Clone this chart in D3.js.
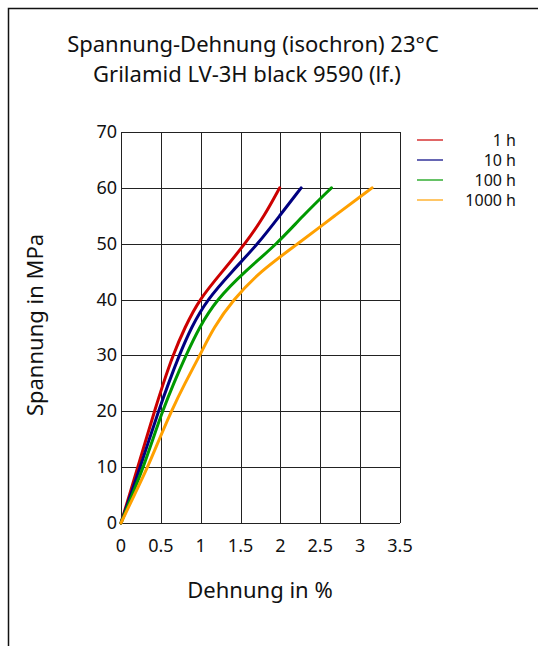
<!DOCTYPE html>
<html>
<head>
<meta charset="utf-8">
<script src="https://cdn.jsdelivr.net/npm/d3@7"></script>
<style>
  body { margin: 0; background: #fff; }
  text { font-family: "Noto Sans", "Open Sans", sans-serif; fill: #111; }
</style>
</head>
<body>
<script>
// stress levels (MPa) and strain (%) for each isochronous curve
const stress = [0, 5, 10, 15, 20, 25, 30, 35, 40, 45, 50, 55, 60];
const strain1h = [0, 0.105, 0.21, 0.315, 0.42, 0.53, 0.65, 0.80, 0.98, 1.27, 1.56, 1.80, 1.99];
const strain10h = [0, 0.12, 0.24, 0.355, 0.47, 0.595, 0.73, 0.88, 1.08, 1.39, 1.72, 1.99, 2.26];
const strain100h = [0, 0.14, 0.28, 0.40, 0.52, 0.66, 0.815, 0.98, 1.20, 1.55, 1.96, 2.28, 2.64];
const strain1000h = [0, 0.167, 0.335, 0.48, 0.63, 0.80, 0.99, 1.16, 1.41, 1.74, 2.22, 2.68, 3.15];

const seriesNames = ["1 h", "10 h", "100 h", "1000 h"];
const seriesColors = ["#cc0000", "#000080", "#009900", "#ffa000"];
const xTicks = [0, 0.5, 1, 1.5, 2, 2.5, 3, 3.5];
const yTicks = [0, 10, 20, 30, 40, 50, 60, 70];

const W = 538, H = 646;
const dims = { l: 121, r: 400, t: 132, b: 523 };

const svg = d3.select("body").append("svg")
  .attr("width", W).attr("height", H);

// outer frame
svg.append("rect")
  .attr("x", 8.5).attr("y", 8.5)
  .attr("width", 600).attr("height", 700)
  .attr("fill", "none").attr("stroke", "#111").attr("stroke-width", 1.5);

// titles
svg.append("text").attr("x", 253).attr("y", 52)
  .attr("text-anchor", "middle").attr("font-size", 22)
  .text("Spannung-Dehnung (isochron) 23°C");
svg.append("text").attr("x", 247).attr("y", 82)
  .attr("text-anchor", "middle").attr("font-size", 22)
  .text("Grilamid LV-3H black 9590 (lf.)");

const x = d3.scaleLinear().domain([0, 3.5]).range([dims.l, dims.r]);
const y = d3.scaleLinear().domain([0, 70]).range([dims.b, dims.t]);

// grid
const grid = svg.append("g").attr("stroke", "#222").attr("stroke-width", 1);
grid.selectAll("line.v").data(xTicks).enter().append("line")
  .attr("x1", d => Math.round(x(d)) + 0.5).attr("x2", d => Math.round(x(d)) + 0.5)
  .attr("y1", dims.t).attr("y2", dims.b);
grid.selectAll("line.h").data(yTicks).enter().append("line")
  .attr("y1", d => Math.round(y(d)) + 0.5).attr("y2", d => Math.round(y(d)) + 0.5)
  .attr("x1", dims.l).attr("x2", dims.r);

// tick labels
svg.append("g").selectAll("text").data(xTicks).enter().append("text")
  .attr("x", d => x(d)).attr("y", 552)
  .attr("text-anchor", "middle").attr("font-size", 18)
  .text(d => d);
svg.append("g").selectAll("text").data(yTicks).enter().append("text")
  .attr("x", 117).attr("y", d => y(d) + 6)
  .attr("text-anchor", "end").attr("font-size", 18)
  .text(d => d);

// axis titles
svg.append("text").attr("x", 260).attr("y", 598)
  .attr("text-anchor", "middle").attr("font-size", 22)
  .text("Dehnung in %");
svg.append("text")
  .attr("transform", "translate(43, 325) rotate(-90)")
  .attr("text-anchor", "middle").attr("font-size", 22)
  .text("Spannung in MPa");

// curves
const allStrain = [strain1h, strain10h, strain100h, strain1000h];
const line = d3.line()
  .x(d => x(d[0])).y(d => y(d[1]))
  .curve(d3.curveBasis);

svg.append("g").selectAll("path").data(allStrain).enter().append("path")
  .attr("d", s => line(s.map((v, i) => [v, stress[i]])))
  .attr("fill", "none")
  .attr("stroke", (d, i) => seriesColors[i])
  .attr("stroke-width", 3)
  .attr("stroke-linecap", "round");

// legend
const legend = svg.append("g");
seriesNames.forEach((name, i) => {
  const ly = 140 + i * 20;
  legend.append("line")
    .attr("x1", 417).attr("x2", 443)
    .attr("y1", ly).attr("y2", ly)
    .attr("stroke", seriesColors[i]).attr("stroke-width", 1.2);
  legend.append("text")
    .attr("x", 516).attr("y", ly + 5.5)
    .attr("text-anchor", "end").attr("font-size", 16)
    .text(name);
});
</script>
</body>
</html>
